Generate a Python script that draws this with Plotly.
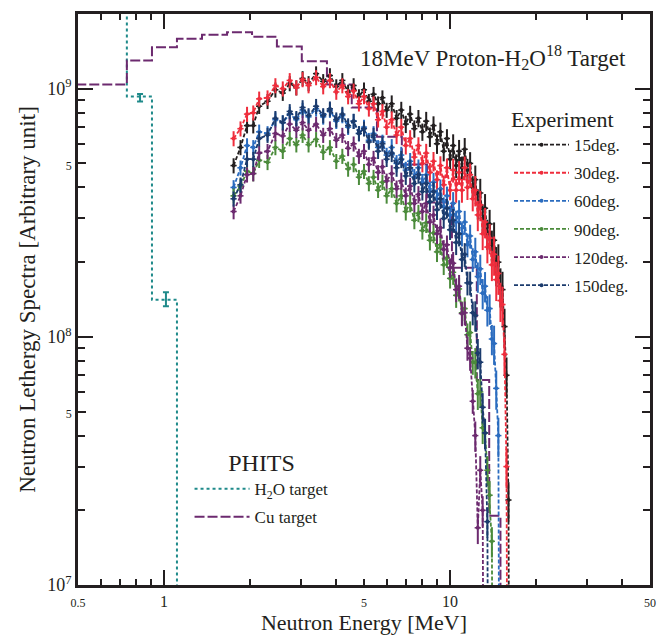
import plotly.graph_objects as go

# ---------------- data ----------------
energy = [1.75, 1.85, 1.95, 2.05, 2.15, 2.3, 2.45, 2.6, 2.75, 2.9, 3.05, 3.2,
          3.4, 3.6, 3.8, 4.0, 4.2, 4.4, 4.6, 4.8, 5.0, 5.2, 5.4, 5.6, 5.8, 6.0,
          6.25, 6.5, 6.75, 7.0, 7.25, 7.5, 7.75, 8.0,
          8.25, 8.5, 8.75, 9.0, 9.25, 9.5, 9.75, 10.0,
          10.25, 10.5, 10.75, 11.0, 11.25, 11.5, 11.75, 12.0,
          12.25, 12.5, 12.75, 13.0, 13.25, 13.5, 13.75, 14.0,
          14.25, 14.5, 14.75, 15.0, 15.25, 15.5, 15.75, 16.0, 16.25]

# spectra in units of 1e8 (arbitrary unit)
deg15_e8 = [4.9, 5.8, 7.1, 7.1, 8.5, 8.9, 9.9, 9.6, 10.5, 10.1, 11.0, 10.5,
            11.5, 10.7, 11.3, 10.2, 10.8, 9.7, 10.3, 9.3, 9.9, 8.9, 9.5, 8.7, 9.2, 8.2,
            8.7, 7.6, 8.2, 7.2, 7.9, 6.9, 7.6, 6.7,
            7.4, 6.4, 7.1, 6.0, 6.7, 5.6, 6.3, 5.2,
            5.9, 4.9, 5.6, 4.8, 5.7, 4.7, 5.0, 4.0,
            4.3, 3.45, 3.8, 3.0, 3.3, 2.6, 2.85, 2.35,
            2.45, 1.95, 2.0, 1.6, 1.55, 1.1, 0.7, 0.22, 0.001]
deg30_e8 = [6.3, 6.9, 7.9, 8.0, 9.1, 9.2, 10.3, 10.0, 10.8, 10.1, 10.9, 10.3,
            11.1, 10.2, 10.8, 9.7, 10.3, 9.3, 9.8, 8.7, 9.3, 8.3, 8.7, 7.5, 8.1, 7.0,
            7.5, 6.5, 7.0, 5.9, 6.3, 5.3, 5.9, 5.0,
            5.5, 4.6, 5.1, 4.3, 4.9, 4.1, 4.8, 3.9,
            4.7, 3.9, 4.6, 3.9, 4.8, 4.0, 4.5, 3.6,
            3.9, 3.1, 3.4, 2.6, 2.9, 2.3, 2.5, 1.95,
            2.15, 1.7, 1.8, 1.4, 1.35, 0.85, 0.3, 0.001, None]
deg60_e8 = [4.0, 4.8, 5.9, 5.8, 6.7, 6.6, 7.5, 7.3, 7.9, 7.5, 8.2, 7.7,
            8.3, 7.7, 8.2, 7.4, 7.8, 7.0, 7.4, 6.6, 7.0, 6.2, 6.6, 5.8, 6.1, 5.4,
            5.8, 5.0, 5.4, 4.7, 5.1, 4.4, 4.8, 4.2,
            4.5, 3.85, 4.2, 3.6, 3.95, 3.35, 3.7, 3.1,
            3.45, 2.9, 3.2, 2.6, 2.9, 2.35, 2.55, 2.05,
            2.2, 1.75, 1.88, 1.5, 1.6, 1.28, 1.3, 0.98,
            0.94, 0.62, 0.4, 0.001, None, None, None, None, None]
deg90_e8 = [3.7, 4.05, 4.65, 4.55, 5.15, 5.05, 5.8, 5.6, 6.3, 5.95, 6.5, 5.95,
            6.25, 5.55, 5.8, 5.1, 5.35, 4.75, 4.95, 4.4, 4.65, 4.15, 4.4, 3.9, 4.2, 3.7,
            3.95, 3.45, 3.7, 3.2, 3.45, 2.95, 3.15, 2.68,
            2.88, 2.45, 2.62, 2.2, 2.35, 1.95, 2.08, 1.72,
            1.82, 1.47, 1.56, 1.25, 1.3, 1.02, 1.04, 0.79,
            0.79, 0.59, 0.6, 0.43, 0.41, 0.29, 0.23, 0.15,
            0.001, None, None, None, None, None, None, None, None]
deg120_e8 = [3.2, 3.7, 4.5, 4.55, 5.5, 5.6, 6.6, 6.45, 7.2, 6.8, 7.3, 6.8,
             7.2, 6.5, 6.9, 6.2, 6.5, 5.75, 6.0, 5.35, 5.6, 4.95, 5.25, 4.6, 4.85, 4.25,
             4.55, 3.95, 4.25, 3.7, 4.05, 3.45, 3.75, 3.2,
             3.45, 2.9, 3.1, 2.6, 2.75, 2.25, 2.35, 1.9,
             1.98, 1.55, 1.6, 1.24, 1.25, 0.9, 0.82, 0.55,
             0.4, 0.17, 0.29, 0.2, 0.001, None, None, None,
             None, None, None, None, None, None, None, None, None]
deg150_e8 = [3.6, 4.1, 5.2, 5.2, 6.3, 6.5, 7.6, 7.3, 8.1, 7.6, 8.4, 7.8,
             8.5, 7.8, 8.3, 7.5, 7.9, 7.1, 7.4, 6.6, 6.9, 6.1, 6.5, 5.6, 6.0, 5.2,
             5.5, 4.8, 5.2, 4.45, 4.8, 4.15, 4.5, 3.85,
             4.15, 3.5, 3.85, 3.25, 3.6, 3.0, 3.3, 2.7,
             2.95, 2.4, 2.6, 2.05, 2.15, 1.65, 1.65, 1.25,
             1.22, 0.86, 0.79, 0.52, 0.41, 0.18, 0.001, None,
             None, None, None, None, None, None, None, None, None]

# relative uncertainty of the measured points (%)
err_pct = [7] * 12 + [7] * 14 + [8] * 8 + [9] * 8 + [11] * 8 + [14] * 8 + [18] * 9
# energy resolution (%)
eres_pct = 2.5

series_names = ["15deg.", "30deg.", "60deg.", "90deg.", "120deg.", "150deg."]
series_vals = [deg15_e8, deg30_e8, deg60_e8, deg90_e8, deg120_e8, deg150_e8]
series_colors = ["#231f20", "#ef2d3c", "#2b6cbf", "#4b8b3b", "#6c2a6f", "#1b3b6d"]

# PHITS step histograms (bin edges in MeV, values)
h2o_edges = [0.4, 0.741, 0.907, 1.109]
h2o_vals = [5e10, 9.3e8, 1.41e8, 1e3]
h2o_err_E = [0.824, 1.015]
h2o_err_V = [9.2e8, 1.42e8]
h2o_err_pct = [3.5, 6.5]

cu_edges = [0.4, 0.741, 0.907, 1.109, 1.357, 1.66, 2.03, 2.48, 3.03, 3.71,
            4.53, 5.55, 6.78, 8.3, 10.15, 12.4, 13.7, 15.0]
cu_vals = [1.04e9, 1.30e9, 1.47e9, 1.59e9, 1.65e9, 1.69e9, 1.62e9, 1.48e9, 1.29e9,
           1.04e9, 8.4e8, 6.4e8, 4.95e8, 3.48e8, 1.9e8, 6.7e7, 1.9e7, 1e3]

FONT = "Liberation Serif"
TXT = "#231f20"

fig = go.Figure()

# PHITS
fig.add_trace(go.Scatter(
    x=h2o_edges, y=h2o_vals, mode="lines", line_shape="hv",
    line=dict(color="#1f8a8a", width=2, dash="dot"),
    name="H<sub>2</sub>O target", legend="legend2", legendgroup="h2o"))
fig.add_trace(go.Scatter(
    x=h2o_err_E, y=h2o_err_V, mode="markers", marker=dict(size=1, color="#1f8a8a"),
    error_y=dict(type="data", array=[v * p / 100 for v, p in zip(h2o_err_V, h2o_err_pct)],
                 color="#1f8a8a", thickness=2, width=3),
    showlegend=False, hoverinfo="skip"))
fig.add_trace(go.Scatter(
    x=cu_edges, y=cu_vals, mode="lines", line_shape="hv",
    line=dict(color="#6c2a6f", width=2, dash="10px,3px"),
    name="Cu target", legend="legend2", legendgroup="cu"))

# Experiment
for name, vals, col in zip(series_names, series_vals, series_colors):
    y = [None if v is None else v * 1e8 for v in vals]
    err = [None if v is None else v * 1e8 * p / 100 for v, p in zip(vals, err_pct)]
    fig.add_trace(go.Scatter(
        x=energy, y=y, mode="lines+markers",
        line=dict(color=col, width=1.8, dash="4px,2px"),
        marker=dict(size=4, color=col),
        error_y=dict(type="data", array=err, color=col, thickness=2, width=0),
        error_x=dict(type="percent", value=eres_pct, color=col, thickness=1.5, width=0),
        name=name, legend="legend", legendgroup=name))

# dummy trace for the overlay axes carrying long decade ticks
fig.add_trace(go.Scatter(x=[None], y=[None], xaxis="x2", yaxis="y2",
                         showlegend=False, hoverinfo="skip"))

xr = [-0.30103, 1.69897]
yr = [7.0, 9.301]

small = lambda s: f"<span style='font-size:12px'>{s}</span>"

fig.update_layout(
    width=670, height=635,
    margin=dict(l=78, r=20, t=14, b=50, autoexpand=False),
    paper_bgcolor="white", plot_bgcolor="white",
    font=dict(family=FONT, color=TXT, size=16),
    showlegend=True,
    xaxis=dict(type="log", range=xr, showgrid=False, zeroline=False,
               showline=True, linecolor=TXT, linewidth=2.5, mirror="ticks",
               ticks="inside", ticklen=6, tickwidth=1.8, tickcolor=TXT,
               tickvals=[0.5, 1, 5, 10, 50],
               ticktext=[small("0.5"), "1", small("5"), "10", small("50")],
               tickfont=dict(size=16, family=FONT, color=TXT),
               minor=dict(tickvals=[0.6, 0.7, 0.8, 0.9, 2, 3, 4, 6, 7, 8, 9, 20, 30, 40],
                          ticks="inside", ticklen=6, tickwidth=1.8, tickcolor=TXT),
               title=dict(text="Neutron Energy [MeV]", font=dict(size=22, family=FONT, color=TXT),
                          standoff=11)),
    yaxis=dict(type="log", range=yr, showgrid=False, zeroline=False,
               showline=True, linecolor=TXT, linewidth=2.5, mirror="ticks",
               ticks="inside", ticklen=8, tickwidth=1.8, tickcolor=TXT,
               tickvals=[1e7, 5e7, 1e8, 5e8, 1e9],
               ticktext=["10<sup>7</sup>", small("5"), "10<sup>8</sup>", small("5"), "10<sup>9</sup>"],
               tickfont=dict(size=18, family=FONT, color=TXT),
               minor=dict(tickvals=[2e7, 3e7, 4e7, 6e7, 7e7, 8e7, 9e7,
                                    2e8, 3e8, 4e8, 6e8, 7e8, 8e8, 9e8],
                          ticks="inside", ticklen=7, tickwidth=1.8, tickcolor=TXT),
               title=dict(text="Neutron Lethergy Spectra [Arbitrary unit]",
                          font=dict(size=23, family=FONT, color=TXT), standoff=6)),
    xaxis2=dict(type="log", range=xr, overlaying="x", anchor="y2", showgrid=False,
                zeroline=False, showline=False, mirror="ticks", ticks="inside",
                ticklen=15, tickwidth=2, tickcolor=TXT, tickvals=[1, 10],
                showticklabels=False),
    yaxis2=dict(type="log", range=yr, overlaying="y", anchor="x2", showgrid=False,
                zeroline=False, showline=False, mirror="ticks", ticks="inside",
                ticklen=15, tickwidth=2, tickcolor=TXT, tickvals=[1e8, 1e9],
                showticklabels=False),
    legend=dict(x=0.7535, y=0.852, xanchor="left", yanchor="top",
                bgcolor="rgba(0,0,0,0)", tracegroupgap=3, itemwidth=55,
                font=dict(size=17, family=FONT, color=TXT),
                title=dict(text="Experiment", side="top",
                           font=dict(size=22, family=FONT, color=TXT))),
    legend2=dict(x=0.195, y=0.254, xanchor="left", yanchor="top",
                 bgcolor="rgba(0,0,0,0)", tracegroupgap=3, itemwidth=55,
                 font=dict(size=17, family=FONT, color=TXT),
                 title=dict(text="PHITS", side="top center",
                            font=dict(size=24, family=FONT, color=TXT))),
    annotations=[dict(text="18MeV Proton-H<sub>2</sub>O<sup>18</sup> Target",
                      xref="paper", yref="paper", x=0.962, y=0.923,
                      xanchor="right", yanchor="middle", showarrow=False,
                      font=dict(size=23, family=FONT, color=TXT))],
)

fig.write_html("out.html", config={"displayModeBar": False},
               post_script="document.body.style.margin='0px';document.body.style.overflow='hidden';")
